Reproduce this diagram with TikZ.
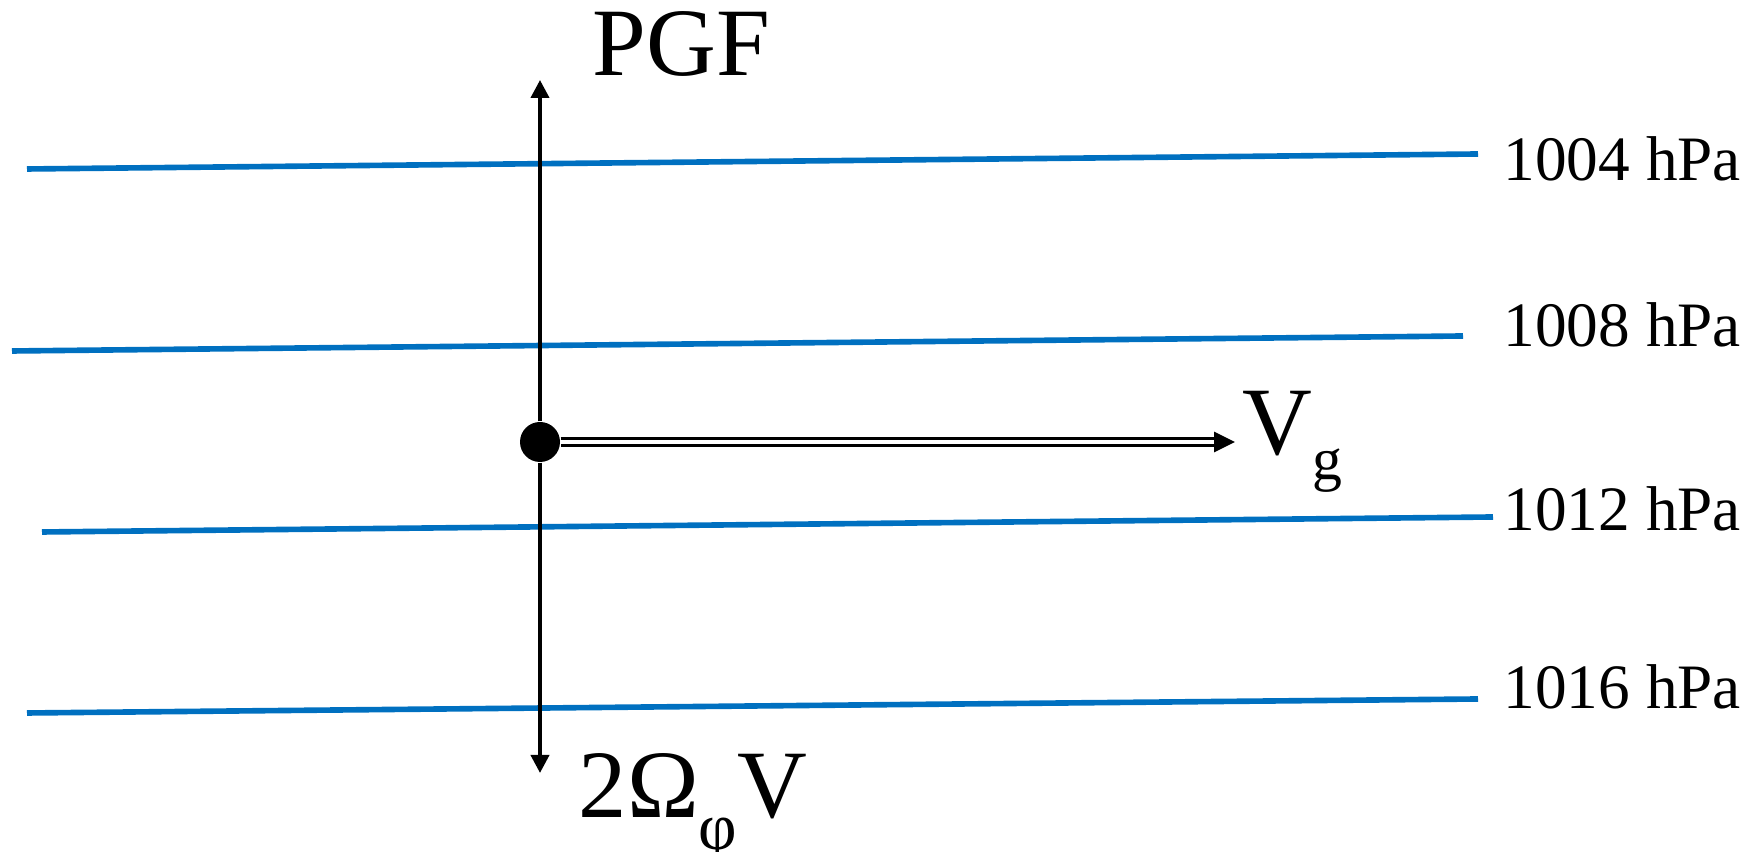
\documentclass[tikz,border=0pt]{standalone}
\usepackage{fontspec}
\setmainfont{Liberation Serif}
\usetikzlibrary{arrows.meta,positioning}
\definecolor{isoblue}{HTML}{0070C0}

\begin{document}
\begin{tikzpicture}[
    isobar/.style={draw=isoblue, line width=1.6pt},
    force/.style={draw=black, line width=1.1pt,
                  -{Triangle[length=0.18cm,width=0.18cm]}},
    wind/.style={draw=black, double, double distance=1pt, line width=0.85pt,
                 -{Triangle[length=0.21cm,width=0.2cm]}},
    parcel/.style={circle, fill=black, minimum size=0.4cm, inner sep=0pt},
    presslabel/.style={anchor=west, inner sep=0pt,
                       font=\fontsize{18}{20}\selectfont},
    biglabel/.style={anchor=base west, inner sep=0pt,
                     font=\fontsize{27.5}{30}\selectfont},
]
\useasboundingbox (0,0) rectangle (17.45,8.52);

% isobars
\coordinate (p1004w) at (0.27,6.83);
\coordinate (p1004e) at (14.78,6.98);
\coordinate (p1008w) at (0.12,5.01);
\coordinate (p1008e) at (14.63,5.16);
\coordinate (p1012w) at (0.42,3.20);
\coordinate (p1012e) at (14.93,3.35);
\coordinate (p1016w) at (0.27,1.39);
\coordinate (p1016e) at (14.78,1.53);

\draw[isobar] (p1004w) -- (p1004e);
\draw[isobar] (p1008w) -- (p1008e);
\draw[isobar] (p1012w) -- (p1012e);
\draw[isobar] (p1016w) -- (p1016e);

\node[presslabel] (l1004) at (15.03,6.93) {1004 hPa};
\node[presslabel] (l1008) at (15.03,5.27) {1008 hPa};
\node[presslabel] (l1012) at (15.03,3.43) {1012 hPa};
\node[presslabel] (l1016) at (15.03,1.65) {1016 hPa};

% air parcel and forces
\node[parcel] (parcel) at (5.40,4.10) {};
\coordinate (pgftip) at (5.40,7.72);
\coordinate (cortip) at (5.40,0.79);
\coordinate (vgtip) at (12.35,4.10);

\draw[force] (parcel) -- (pgftip);
\draw[force] (parcel) -- (cortip);
\draw[wind] (parcel) -- (vgtip);

\node[biglabel] (pgf) at (5.92,7.76) {PGF};
\node[biglabel] (vg) at (12.42,3.97)
     {V\raisebox{-7pt}{\fontsize{17}{18}\selectfont g}};
\node[biglabel] (cor) at (5.78,0.34)
     {2Ω\raisebox{-9pt}{\fontsize{19}{20}\selectfont φ}V};

\end{tikzpicture}
\end{document}
